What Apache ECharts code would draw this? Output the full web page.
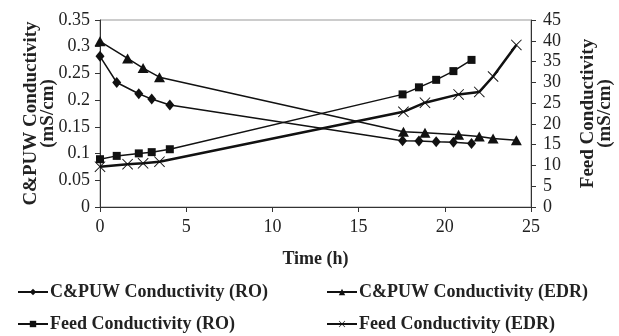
<!DOCTYPE html>
<html>
<head>
<meta charset="utf-8">
<script src="https://cdn.jsdelivr.net/npm/echarts@6/dist/echarts.min.js"></script>
<style>html,body{margin:0;padding:0;background:#fff;}#c{width:619px;height:336px;}</style>
</head>
<body>
<div id="c"></div>
<script>
// Time (h)
var roTime = [0, 0.97, 2.25, 3.0, 4.05, 17.55, 18.5, 19.5, 20.5, 21.55];
var edrTime = [0, 1.6, 2.5, 3.45, 17.6, 18.85, 20.8, 22.0, 22.8, 24.15];
// C&PUW conductivity (mS/cm) - left axis
var cpuwRO = [0.282, 0.233, 0.212, 0.202, 0.191, 0.124, 0.1235, 0.122, 0.121, 0.119];
var cpuwEDR = [0.31, 0.278, 0.26, 0.243, 0.141, 0.139, 0.135, 0.132, 0.128, 0.125];
// Feed conductivity (mS/cm) - right axis
var feedRO = [11.5, 12.3, 12.9, 13.2, 13.9, 27.1, 28.8, 30.6, 32.7, 35.4];
var feedEDR = [9.7, 10.3, 10.5, 10.9, 22.9, 25.1, 27.1, 27.7, 31.4, 39.0];

var names = ['C&PUW Conductivity (RO)', 'C&PUW Conductivity (EDR)', 'Feed Conductivity (RO)', 'Feed Conductivity (EDR)'];

function pairs(xs, ys) { return xs.map(function (x, i) { return [x, ys[i]]; }); }

var FONT = '"Liberation Serif", "Times New Roman", serif';
var crossPath = 'path://M0,0.6L0.6,0L5,4.4L9.4,0L10,0.6L5.6,5L10,9.4L9.4,10L5,5.6L0.6,10L0,9.4L4.4,5Z';

function legendAt(name, left, top) {
  return {
    data: [name], left: left, top: top, padding: 0, itemWidth: 30, itemHeight: 8,
    textStyle: { fontFamily: FONT, fontWeight: 'bold', fontSize: 18, color: '#222', padding: [0, 0, 0, -3] }
  };
}

var chart = echarts.init(document.getElementById('c'));
chart.setOption({
  animation: false,
  textStyle: { fontFamily: FONT },
  grid: { left: 100, right: 88, top: 20, bottom: 129, show: true, borderColor: '#999', borderWidth: 1, outerBoundsMode: 'none', containLabel: false },
  legend: [
    legendAt(names[0], 17, 283),
    legendAt(names[1], 326, 283),
    legendAt(names[2], 17, 315),
    legendAt(names[3], 326, 315)
  ],
  xAxis: {
    type: 'value', min: 0, max: 25, interval: 5,
    name: 'Time (h)', nameLocation: 'middle', nameGap: 43, nameMoveOverlap: false,
    nameTextStyle: { fontFamily: FONT, fontWeight: 'bold', fontSize: 18, color: '#222' },
    axisLine: { lineStyle: { color: '#333', width: 1 } },
    axisTick: { show: true, length: 5, lineStyle: { color: '#333' } },
    axisLabel: { fontFamily: FONT, fontSize: 18, color: '#222', margin: 11 },
    splitLine: { show: false }
  },
  yAxis: [
    {
      type: 'value', min: 0, max: 0.35, interval: 0.05, position: 'left',
      name: 'C&PUW Conductivity\n(mS/cm)', nameLocation: 'middle', nameRotate: 90, nameGap: 43, nameMoveOverlap: false,
      nameTextStyle: { fontFamily: FONT, fontWeight: 'bold', fontSize: 19, color: '#222', lineHeight: 17 },
      axisLine: { show: true, lineStyle: { color: '#333', width: 1 } },
      axisTick: { show: true, length: 5, lineStyle: { color: '#333' } },
      axisLabel: { fontFamily: FONT, fontSize: 18, color: '#222', margin: 10 },
      splitLine: { show: false }
    },
    {
      type: 'value', min: 0, max: 45, interval: 5, position: 'right',
      name: 'Feed Conductivity\n(mS/cm)', nameLocation: 'middle', nameRotate: 90, nameGap: 49, nameMoveOverlap: false,
      nameTextStyle: { fontFamily: FONT, fontWeight: 'bold', fontSize: 19, color: '#222', lineHeight: 17 },
      axisLine: { show: true, lineStyle: { color: '#333', width: 1 } },
      axisTick: { show: true, length: 5, lineStyle: { color: '#333' } },
      axisLabel: { fontFamily: FONT, fontSize: 18, color: '#222', margin: 12 },
      splitLine: { show: false }
    }
  ],
  series: [
    {
      name: names[0], type: 'line', yAxisIndex: 0, data: pairs(roTime, cpuwRO),
      symbol: 'diamond', symbolSize: [9, 11],
      lineStyle: { color: '#111', width: 1.5 }, itemStyle: { color: '#111' }
    },
    {
      name: names[1], type: 'line', yAxisIndex: 0, data: pairs(edrTime, cpuwEDR),
      symbol: 'triangle', symbolSize: [11, 10],
      lineStyle: { color: '#111', width: 1.5 }, itemStyle: { color: '#111' }
    },
    {
      name: names[2], type: 'line', yAxisIndex: 1, data: pairs(roTime, feedRO),
      symbol: 'rect', symbolSize: 8,
      lineStyle: { color: '#111', width: 1.5 }, itemStyle: { color: '#111' }
    },
    {
      name: names[3], type: 'line', yAxisIndex: 1, data: pairs(edrTime, feedEDR),
      symbol: crossPath, symbolSize: 11,
      lineStyle: { color: '#111', width: 2.5 }, itemStyle: { color: '#111' }
    }
  ]
});
</script>
</body>
</html>
